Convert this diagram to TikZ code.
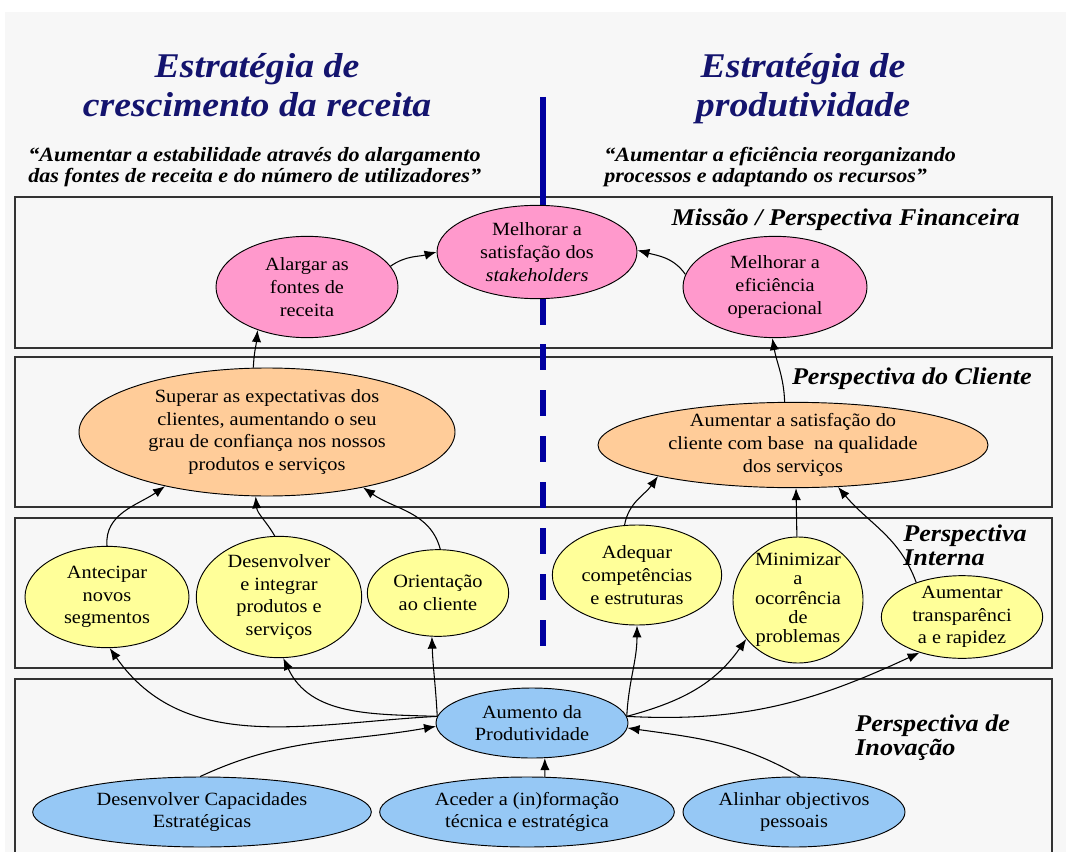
\documentclass[tikz,border=0pt]{standalone}
\usepackage{fontspec}
\setmainfont{Liberation Serif}[FakeStretch=1.09]
\usetikzlibrary{arrows.meta,shapes.geometric}
\definecolor{pinkc}{RGB}{255,153,204}
\definecolor{orangec}{RGB}{255,204,153}
\definecolor{yellowc}{RGB}{255,255,153}
\definecolor{bluec}{RGB}{150,200,245}
\definecolor{navyt}{RGB}{20,20,110}
\definecolor{navyl}{RGB}{0,0,160}
\definecolor{bgc}{RGB}{247,247,247}
\tikzset{
  panel/.style={draw=black!80, line width=1.2pt, fill=bgc},
  oval/.style={ellipse, draw=black, line width=0.7pt, inner sep=0pt},
  txt/.style={inner sep=0pt, align=center, font=\fontsize{14}{17}\selectfont},
  txttight/.style={inner sep=0pt, align=center, font=\fontsize{14}{14.5}\selectfont},
  fin/.style={oval, fill=pinkc},
  cli/.style={oval, fill=orangec},
  inte/.style={oval, fill=yellowc},
  ino/.style={oval, fill=bluec},
  arr/.style={-{Latex[length=9pt,width=7pt]}, line width=0.8pt, black},
  titletext/.style={align=center, text=navyt, font=\fontsize{26}{29.25}\selectfont\bfseries\itshape, inner sep=0pt},
  quotetext/.style={align=left, font=\fontsize{15.2}{15.75}\selectfont\bfseries\itshape, inner sep=0pt},
  secttext/.style={align=left, font=\fontsize{18}{18}\selectfont\bfseries\itshape, inner sep=0pt},
}
\begin{document}
\begin{tikzpicture}[x=0.75pt,y=-0.75pt]
\useasboundingbox (0,0) rectangle (1066,852);
\fill[white] (0,0) rectangle (1066,852);
\fill[bgc] (5,12) rectangle (1066,852);
\begin{scope}
\clip (0,0) rectangle (1066,852);
\draw[panel] (15,197) rectangle (1052,348);
\draw[panel] (15,357) rectangle (1052,507);
\draw[panel] (15,518) rectangle (1052,668);
\draw[panel] (15,679) rectangle (1052,880);
\end{scope}

% titles
\node[titletext, anchor=base] (t1) at (257,117) {Estratégia de\\crescimento da receita};
\node[titletext, anchor=base] (t2) at (803,117) {Estratégia de\\produtividade};
\node[quotetext, anchor=base west] (q1) at (28,183) {“Aumentar a estabilidade através do alargamento\\das fontes de receita e do número de utilizadores”};
\node[quotetext, anchor=base west] (q2) at (604,183) {“Aumentar a eficiência reorganizando\\processos e adaptando os recursos”};

% divider
\draw[navyl, line width=4.5pt] (543,97) -- (543,325);
\draw[navyl, line width=4.5pt, dash pattern=on 19.5pt off 15pt] (543,344) -- (543,646);

% section labels
\node[secttext, anchor=base east] (s1) at (1020,225) {Missão / Perspectiva Financeira};
\node[secttext, anchor=base east] (s2) at (1032,384) {Perspectiva do Cliente};
\node[secttext, anchor=base west] (s3) at (903,565) {Perspectiva\\Interna};
\node[secttext, anchor=base west] (s4) at (855,755) {Perspectiva de\\Inovação};

% financial
\node[fin, minimum width=150pt, minimum height=70pt, label={[txt]center:{Melhorar a\\satisfação dos\\\textit{stakeholders}}}] (stake) at (537,252) {};
\node[fin, minimum width=136.5pt, minimum height=76pt, label={[txt]center:{Alargar as\\fontes de\\receita}}] (alarg) at (307,287) {};
\node[fin, minimum width=138pt, minimum height=76pt, label={[txt]center:{Melhorar a\\eficiência\\operacional}}] (effic) at (775,287) {};
% customer
\node[cli, minimum width=282pt, minimum height=96pt, label={[txt]center:{Superar as expectativas dos\\clientes, aumentando o seu\\grau de confiança nos nossos\\produtos e serviços}}] (super) at (267,432) {};
\node[cli, minimum width=292.5pt, minimum height=64pt, label={[txt]center:{Aumentar a satisfação do\\cliente com base\ \ na qualidade\\dos serviços}}] (satis) at (793,445) {};
% internal
\node[inte, minimum width=123pt, minimum height=76pt, label={[txt]center:{Antecipar\\novos\\segmentos}}] (antec) at (107,597) {};
\node[inte, minimum width=124pt, minimum height=91pt, label={[txt]center:{Desenvolver\\e integrar\\produtos e\\serviços}}] (desen) at (279,597) {};
\node[inte, minimum width=106pt, minimum height=65pt, label={[txt]center:{Orientação\\ao cliente}}] (orien) at (438,593) {};
\node[inte, minimum width=127pt, minimum height=75pt, label={[txt]center:{Adequar\\competências\\e estruturas}}] (adequ) at (637,575) {};
\node[inte, minimum width=97.5pt, minimum height=94.5pt, label={[txttight]center:{Minimizar\\a\\ocorrência\\de\\problemas}}] (minim) at (798,600) {};
\node[inte, minimum width=121pt, minimum height=62pt, label={[txt]center:{Aumentar\\transparênci\\a e rapidez}}] (trans) at (962,617) {};
% innovation
\node[ino, minimum width=144pt, minimum height=52.5pt, label={[txt]center:{Aumento da\\Produtividade}}] (prod) at (532,723) {};
\node[ino, minimum width=254pt, minimum height=52.5pt, label={[txt]center:{Desenvolver Capacidades\\Estratégicas}}] (dcap) at (202,812) {};
\node[ino, minimum width=221pt, minimum height=52.5pt, label={[txt]center:{Aceder a (in)formação\\técnica e estratégica}}] (aced) at (527,812) {};
\node[ino, minimum width=166.5pt, minimum height=52.5pt, label={[txt]center:{Alinhar objectivos\\pessoais}}] (alin) at (794,812) {};

% connectors
\draw[arr] (alarg.14) to[out=35,in=195] (stake.180);
\draw[arr] (effic.172) to[out=125,in=-15] (stake.1);
\draw[arr] (super.102) to[out=88,in=265] (alarg.221);
\draw[arr] (satis.101) to[out=92,in=-80] (effic.267);
\draw[arr] (antec.90) to[out=95,in=215] (super.208);
\draw[arr] (desen.94) to[out=120,in=-85] (super.260);
\draw[arr] (orien.87) to[out=105,in=-35] (super.330);
\draw[arr] (adequ.104) to[out=80,in=235] (satis.193);
\draw[arr] (minim.91) -- (satis.274);
\draw[arr] (trans.143) to[out=110,in=-50] (satis.317);
\draw[arr] (prod.176) to[out=183,in=-55] (antec.273);
\draw[arr] (prod.176) to[out=178,in=-65] (desen.274);
\draw[arr] (prod.176) to[out=93,in=-88] (orien.262);
\draw[arr] (prod.4) to[out=87,in=-90] (adequ.270);
\draw[arr] (prod.4) to[out=15,in=235] (minim.217);
\draw[arr] (prod.4) to[out=-3,in=205] (trans.220);
\draw[arr] (dcap.93) to[out=25,in=190] (prod.182);
\draw[arr] (aced.63) -- (prod.290);
\draw[arr] (alin.80) to[out=150,in=-8] (prod.357);
\end{tikzpicture}
\end{document}
